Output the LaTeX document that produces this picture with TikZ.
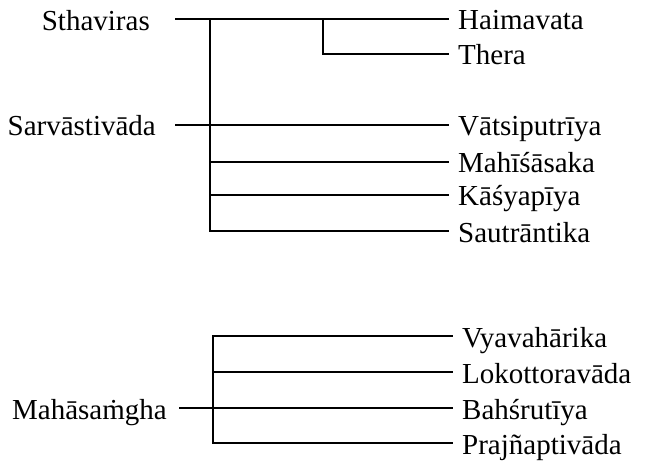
\documentclass[tikz,border=0pt]{standalone}
\usepackage{fontspec}
\setmainfont{Liberation Serif}
\begin{document}
\begin{tikzpicture}[x=1pt,y=-1pt,
  lbl/.style={inner sep=0pt, font=\fontsize{29}{34}\selectfont},
  br/.style={line width=1.8pt, line join=miter, line cap=rect}]
\useasboundingbox (0,0) rectangle (645,465);
% left labels
\node[lbl, anchor=base east] (sth) at (150,30.5) {Sthaviras};
\node[lbl, anchor=base east] (sar) at (156,136) {Sarvāstivāda};
\node[lbl, anchor=base east] (mah) at (167,419) {Mahāsaṁgha};
% right labels
\node[lbl, anchor=base west] (hai) at (458,30) {Haimavata};
\node[lbl, anchor=base west] (the) at (458,65) {Thera};
\node[lbl, anchor=base west] (vat) at (458,136) {Vātsiputrīya};
\node[lbl, anchor=base west] (mhs) at (458,173) {Mahīśāsaka};
\node[lbl, anchor=base west] (kas) at (458,206) {Kāśyapīya};
\node[lbl, anchor=base west] (sau) at (458,242) {Sautrāntika};
\node[lbl, anchor=base west] (vya) at (462,347) {Vyavahārika};
\node[lbl, anchor=base west] (lok) at (462,383) {Lokottoravāda};
\node[lbl, anchor=base west] (bah) at (462,419) {Bahśrutīya};
\node[lbl, anchor=base west] (pra) at (462,454) {Prajñaptivāda};
% junction coordinates (upper tree)
\coordinate (sthS) at (176,19);
\coordinate (trT) at (210,19);
\coordinate (trB) at (210,231);
\coordinate (haJ) at (323,19);
\coordinate (haB) at (323,54);
\coordinate (sarS) at (176,125);
\coordinate (mhsJ) at (210,162);
\coordinate (kasJ) at (210,195);
\coordinate (eHai) at (448,19);
\coordinate (eThe) at (448,54);
\coordinate (eVat) at (448,125);
\coordinate (eMhs) at (448,162);
\coordinate (eKas) at (448,195);
\coordinate (eSau) at (448,231);
% junction coordinates (lower tree)
\coordinate (mahS) at (180,408);
\coordinate (lwT) at (213,336);
\coordinate (lwL) at (213,372);
\coordinate (lwB) at (213,443);
\coordinate (eVya) at (452,336);
\coordinate (eLok) at (452,372);
\coordinate (eBah) at (452,408);
\coordinate (ePra) at (452,443);
% upper connectors
\draw[br] (sthS) -- (eHai);
\draw[br] (trT) -- (trB) -- (eSau);
\draw[br] (haJ) -- (haB) -- (eThe);
\draw[br] (sarS) -- (eVat);
\draw[br] (mhsJ) -- (eMhs);
\draw[br] (kasJ) -- (eKas);
% lower connectors
\draw[br] (eVya) -- (lwT) -- (lwB) -- (ePra);
\draw[br] (lwL) -- (eLok);
\draw[br] (mahS) -- (eBah);
\end{tikzpicture}
\end{document}
